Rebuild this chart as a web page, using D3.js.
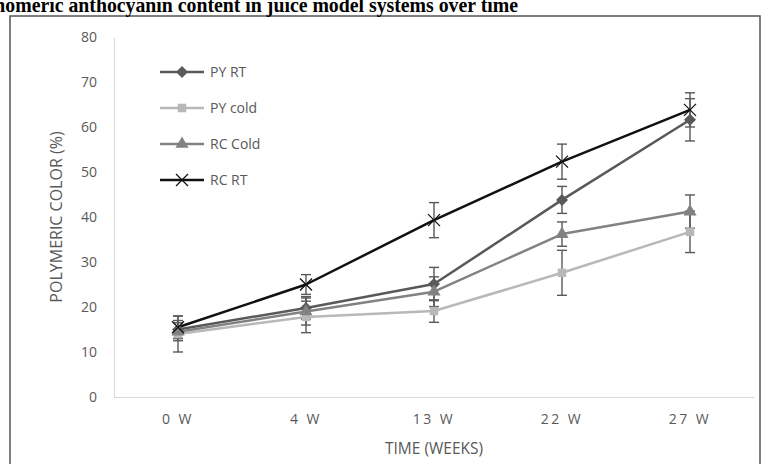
<!DOCTYPE html>
<html>
<head>
<meta charset="utf-8">
<script src="https://cdn.jsdelivr.net/npm/d3@7"></script>
<style>
  body { margin: 0; background: #fff; }
  svg { display: block; }
</style>
</head>
<body>
<div class="root"></div>
<script>
// Chart values
var weeks = ["0 W", "4 W", "13 W", "22 W", "27 W"];
var seriesNames = ["PY RT", "PY cold", "RC Cold", "RC RT"];
var pyRT = [15, 19.8, 25.1, 43.8, 61.6];
var pyRTErr = [2, 2.5, 3.7, 3, 4.7];
var pyCold = [14, 17.8, 19.1, 27.6, 36.7];
var pyColdErr = [4, 3.5, 2.5, 5, 4.6];
var rcCold = [14.5, 19, 23.4, 36.2, 41.2];
var rcColdErr = [2, 3, 3.3, 2.7, 3.7];
var rcRT = [15.5, 25, 39.3, 52.3, 63.8];
var rcRTErr = [2.5, 2.2, 3.9, 3.9, 3.8];
var yTicks = [0, 10, 20, 30, 40, 50, 60, 70, 80];

var W = 764, H = 464;
var margin = { top: 37, right: 10, bottom: 67, left: 114 };
var font = "Open Sans";
var textGrey = "#595959";

var series = [
  { name: seriesNames[0], values: pyRT, err: pyRTErr, color: "#595959", shape: "diamond" },
  { name: seriesNames[1], values: pyCold, err: pyColdErr, color: "#b8b8b8", shape: "square" },
  { name: seriesNames[2], values: rcCold, err: rcColdErr, color: "#828282", shape: "triangle" },
  { name: seriesNames[3], values: rcRT, err: rcRTErr, color: "#111111", shape: "x" }
];

var svg = d3.select(".root").append("svg")
  .attr("width", W)
  .attr("height", H);

// chart area border
svg.append("rect")
  .attr("x", 10).attr("y", 16)
  .attr("width", 750).attr("height", 460)
  .attr("fill", "none")
  .attr("stroke", "#555")
  .attr("stroke-width", 1.5);

// caption above the chart, cut by the top edge like the source
svg.append("text")
  .attr("transform", "translate(518,11.5) scale(0.9,1)")
  .attr("text-anchor", "end")
  .attr("font-family", "Liberation Serif")
  .attr("font-weight", 700)
  .attr("font-size", 22)
  .text("Monomeric anthocyanin content in juice model systems over time");

var xScale = d3.scaleBand().domain(weeks).range([margin.left, W - margin.right]).padding(0);
var yScale = d3.scaleLinear().domain([0, 80]).range([H - margin.bottom, margin.top]);
var cx = function (i) { return xScale(weeks[i]) + xScale.bandwidth() / 2; };

// y axis
var yAxis = svg.append("g")
  .attr("transform", "translate(" + margin.left + ",0)")
  .call(d3.axisLeft(yScale).tickValues(yTicks).tickSize(0).tickPadding(17));
yAxis.select(".domain").attr("stroke", "#d9d9d9");
yAxis.selectAll("text")
  .attr("font-family", font)
  .attr("font-size", 14)
  .attr("fill", textGrey);

// x axis
var xAxis = svg.append("g")
  .attr("transform", "translate(0," + (H - margin.bottom) + ")")
  .call(d3.axisBottom(xScale).tickSize(0).tickPadding(17));
xAxis.select(".domain").attr("stroke", "#d9d9d9");
xAxis.selectAll("text")
  .attr("font-family", font)
  .attr("font-size", 14)
  .attr("letter-spacing", 2.5)
  .attr("fill", textGrey);

// axis titles
svg.append("text")
  .attr("x", (margin.left + W - margin.right) / 2)
  .attr("y", 454)
  .attr("text-anchor", "middle")
  .attr("font-family", font)
  .attr("font-size", 15.5)
  .attr("fill", textGrey)
  .text("TIME (WEEKS)");

svg.append("text")
  .attr("transform", "translate(62,217) rotate(-90)")
  .attr("text-anchor", "middle")
  .attr("font-family", font)
  .attr("font-size", 16)
  .attr("fill", textGrey)
  .text("POLYMERIC COLOR (%)");

// marker paths
function markerPath(shape) {
  if (shape === "diamond") return "M0,-6L6,0L0,6L-6,0Z";
  if (shape === "square") return d3.symbol(d3.symbolSquare, 72)();
  if (shape === "triangle") return d3.symbol(d3.symbolTriangle, 75)();
  return "M-6,-6L6,6M-6,6L6,-6";
}

function drawMarker(g, s) {
  var p = g.append("path").attr("d", markerPath(s.shape));
  if (s.shape === "x") {
    p.attr("fill", "none").attr("stroke", s.color).attr("stroke-width", 1.3);
  } else {
    p.attr("fill", s.color).attr("stroke", "none");
  }
  return p;
}

var line = d3.line()
  .x(function (d, i) { return cx(i); })
  .y(function (d) { return yScale(d); });

// lines
series.forEach(function (s) {
  svg.append("path").datum(s.values)
    .attr("fill", "none")
    .attr("stroke", s.color)
    .attr("stroke-width", 2.5)
    .attr("stroke-linejoin", "round")
    .attr("d", line);
});

// error bars
series.forEach(function (s) {
  var g = svg.append("g")
    .attr("stroke", "#595959")
    .attr("stroke-width", 1.4);
  s.values.forEach(function (v, i) {
    var x = cx(i), y1 = yScale(v + s.err[i]), y0 = yScale(v - s.err[i]);
    g.append("line").attr("x1", x).attr("x2", x).attr("y1", y1).attr("y2", y0);
    g.append("line").attr("x1", x - 5).attr("x2", x + 5).attr("y1", y1).attr("y2", y1);
    g.append("line").attr("x1", x - 5).attr("x2", x + 5).attr("y1", y0).attr("y2", y0);
  });
});

// markers
series.forEach(function (s) {
  s.values.forEach(function (v, i) {
    var g = svg.append("g").attr("transform", "translate(" + cx(i) + "," + yScale(v) + ")");
    drawMarker(g, s);
  });
});

// legend
var legend = svg.append("g").attr("transform", "translate(160,72)");
series.forEach(function (s, i) {
  var row = legend.append("g").attr("transform", "translate(0," + (i * 36) + ")");
  row.append("line")
    .attr("x1", 0).attr("x2", 44)
    .attr("stroke", s.color)
    .attr("stroke-width", 2.5);
  var m = row.append("g").attr("transform", "translate(22,0)");
  drawMarker(m, s);
  row.append("text")
    .attr("x", 50)
    .attr("y", 5)
    .attr("font-family", font)
    .attr("font-size", 14)
    .attr("fill", textGrey)
    .text(s.name);
});
</script>
</body>
</html>
